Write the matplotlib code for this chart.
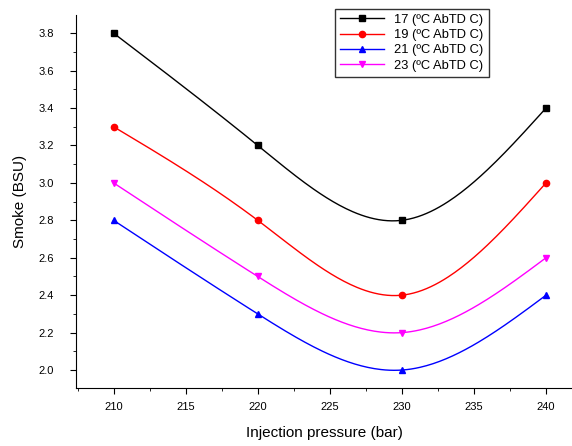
import numpy as np
import matplotlib
matplotlib.use("Agg")
import matplotlib.pyplot as plt
from matplotlib.ticker import MultipleLocator

plt.rcParams['font.family'] = ['Liberation Sans', 'DejaVu Sans']

pressure = [210, 220, 230, 240]
smoke_17 = [3.8, 3.2, 2.8, 3.4]
smoke_19 = [3.3, 2.8, 2.4, 3.0]
smoke_21 = [2.8, 2.3, 2.0, 2.4]
smoke_23 = [3.0, 2.5, 2.2, 2.6]
labels = ['17 (ºC AbTD C)', '19 (ºC AbTD C)', '21 (ºC AbTD C)', '23 (ºC AbTD C)']


def spline(x, y, n=200):
    # natural cubic spline, like Origin's smooth line
    x = np.asarray(x, float)
    y = np.asarray(y, float)
    k = len(x)
    h = np.diff(x)
    A = np.zeros((k, k))
    b = np.zeros(k)
    A[0, 0] = A[-1, -1] = 1
    for i in range(1, k - 1):
        A[i, i - 1] = h[i - 1]
        A[i, i] = 2 * (h[i - 1] + h[i])
        A[i, i + 1] = h[i]
        b[i] = 6 * ((y[i + 1] - y[i]) / h[i] - (y[i] - y[i - 1]) / h[i - 1])
    m = np.linalg.solve(A, b)
    xs = np.linspace(x[0], x[-1], n)
    idx = np.clip(np.searchsorted(x, xs) - 1, 0, k - 2)
    x0, x1 = x[idx], x[idx + 1]
    hh = x1 - x0
    t0, t1 = x1 - xs, xs - x0
    ys = (m[idx] * t0**3 + m[idx + 1] * t1**3) / (6 * hh) \
        + (y[idx] / hh - m[idx] * hh / 6) * t0 \
        + (y[idx + 1] / hh - m[idx + 1] * hh / 6) * t1
    return xs, ys


fig = plt.figure(figsize=(5.72, 4.46), dpi=100)
ax = fig.add_axes([0.133, 0.130, 0.867, 0.836])

series = [(smoke_17, 'black', 's', 5), (smoke_19, 'red', 'o', 4.5),
          (smoke_21, 'blue', '^', 5), (smoke_23, 'magenta', 'v', 5)]
handles = []
for (vals, col, mk, ms), lab in zip(series, labels):
    xs, ys = spline(pressure, vals)
    ax.plot(xs, ys, color=col, lw=1)
    ax.plot(pressure, vals, ls='none', marker=mk, color=col, ms=ms)
    h, = ax.plot([], [], color=col, lw=1, marker=mk, ms=ms, label=lab)
    handles.append(h)

ax.set_xlim(207.4, 241.8)
ax.set_ylim(1.904, 3.896)
ax.xaxis.set_major_locator(MultipleLocator(5))
ax.xaxis.set_minor_locator(MultipleLocator(2.5))
ax.yaxis.set_major_locator(MultipleLocator(0.2))
ax.yaxis.set_minor_locator(MultipleLocator(0.1))
ax.yaxis.set_major_formatter(matplotlib.ticker.FormatStrFormatter('%.1f'))
ax.tick_params(which='both', direction='out', labelsize=8)
ax.tick_params(which='major', length=4)
ax.tick_params(which='minor', length=2.5)
ax.tick_params(axis='y', which='major', pad=12)
ax.tick_params(axis='x', which='major', pad=6)
for s in ['top', 'right']:
    ax.spines[s].set_visible(False)

ax.set_xlabel('Injection pressure (bar)', fontsize=11, labelpad=10)
ax.set_ylabel('Smoke (BSU)', fontsize=11, labelpad=8)

leg = fig.legend(handles=handles, loc='upper left', bbox_to_anchor=(0.574, 0.995),
                 fontsize=9.3, frameon=True, fancybox=False, edgecolor='black',
                 handlelength=3.4, borderpad=0.4, labelspacing=0.25)
leg.get_frame().set_linewidth(1)

fig.savefig('out.png', dpi=100)
